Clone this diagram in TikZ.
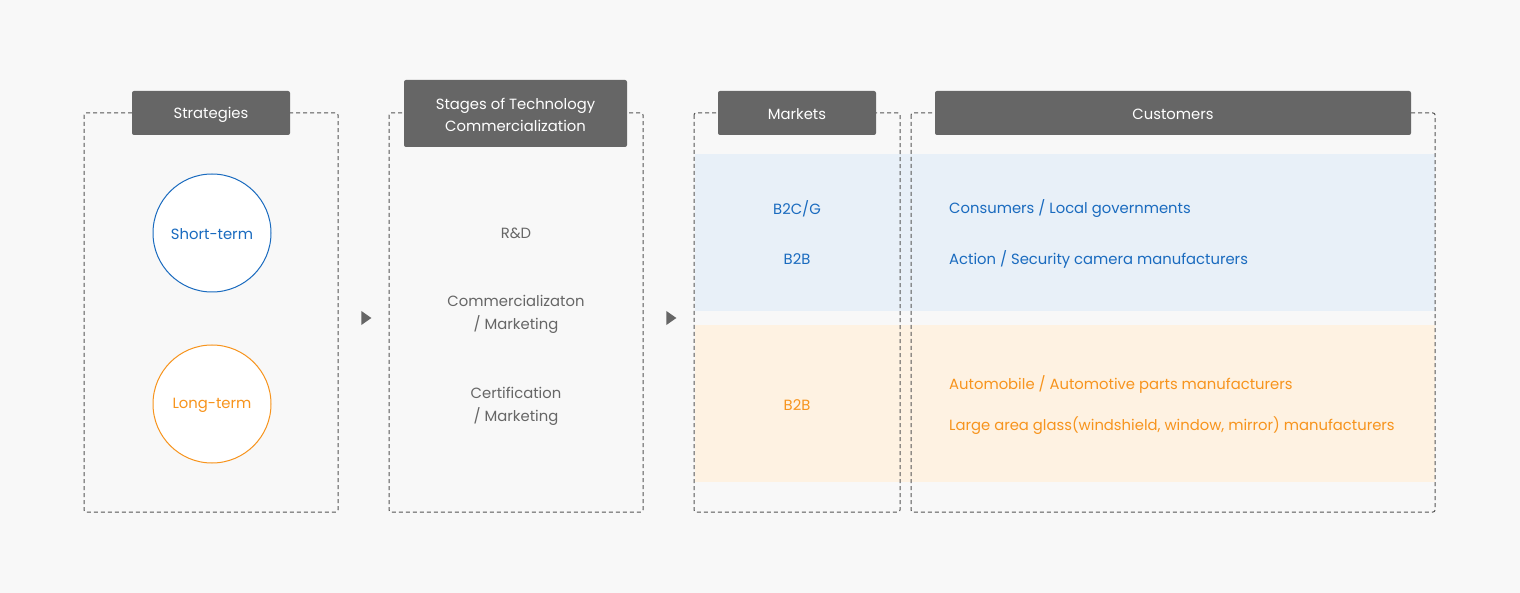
\documentclass[tikz,border=0pt]{standalone}
\usepackage{fontspec}
\setmainfont{Poppins}
\usetikzlibrary{shapes.geometric}
\definecolor{bgc}{HTML}{F8F8F8}
\definecolor{hdr}{HTML}{666666}
\definecolor{txg}{HTML}{666666}
\definecolor{bl}{HTML}{1A6BBF}
\definecolor{org}{HTML}{F7941D}
\definecolor{blband}{HTML}{E8F0F8}
\definecolor{orband}{HTML}{FEF2E2}
\definecolor{dash}{HTML}{555555}
\tikzset{
  frame/.style={draw=dash, dash pattern=on 4pt off 3pt, line width=1pt, rounded corners=2pt},
  hdrbox/.style={fill=hdr, rounded corners=2pt, text=white, font=\fontsize{14.8}{22.5}\selectfont, align=center, inner sep=0pt},
  circ/.style={circle, fill=white, line width=1pt, minimum size=118pt, inner sep=0pt, font=\fontsize{14.8}{20}\selectfont},
  gtext/.style={text=txg, font=\fontsize{14.8}{23}\selectfont, align=center},
  btext/.style={text=bl, font=\fontsize{14.8}{20}\selectfont},
  otext/.style={text=org, font=\fontsize{14.8}{20}\selectfont},
  tri/.style={fill=hdr, isosceles triangle, isosceles triangle apex angle=70, minimum width=12pt, minimum height=10pt, inner sep=0pt}
}
\begin{document}
\begin{tikzpicture}[x=1pt,y=-1pt]
\fill[bgc] (0,0) rectangle (1520,593);
\useasboundingbox (0,0) rectangle (1520,593);
% bands
\fill[blband] (695,154) rectangle (1435,311);
\fill[orband] (695,325) rectangle (1435,482);
% frames
\draw[frame] (84,113) rectangle (338,512);
\draw[frame] (389,113) rectangle (643,512);
\draw[frame] (694,113) rectangle (900,512);
\draw[frame] (911,113) rectangle (1435,512);
% headers
\node[hdrbox, minimum width=158pt, minimum height=44pt] (h1) at (211,113) {};
\node[hdrbox, minimum width=223pt, minimum height=67pt] (h2) at (515.5,113.5) {};
\node[hdrbox, minimum width=158pt, minimum height=44pt] (h3) at (797,113) {};
\node[hdrbox, minimum width=476pt, minimum height=44pt] (h4) at (1173,113) {};
\node[text=white, font=\fontsize{14.8}{22.5}\selectfont] at (211,114.5) {Strategies};
\node[text=white, font=\fontsize{14.8}{22.5}\selectfont, align=center] at (515.5,115) {Stages of Technology\\Commercialization};
\node[text=white, font=\fontsize{14.8}{22.5}\selectfont] at (797,114.5) {Markets};
\node[text=white, font=\fontsize{14.8}{22.5}\selectfont] at (1173,114.5) {Customers};
% circles
\node[circ, draw=bl] (st) at (212,233) {};
\node[circ, draw=org] (lt) at (212,404) {};
\node[text=bl, font=\fontsize{14.8}{20}\selectfont] at (st.center) [yshift=-1.5pt] {Short-term};
\node[text=org, font=\fontsize{14.8}{20}\selectfont] at (lt.center) [yshift=-1.5pt] {Long-term};
% arrows
\node[tri] (a1) at (365,318) {};
\node[tri] (a2) at (670,318) {};
% stages
\node[gtext] (s1) at (516,233.5) {R\&D};
\node[gtext] (s2) at (516,314) {Commercializaton\\/ Marketing};
\node[gtext] (s3) at (516,406) {Certification\\/ Marketing};
% markets
\node[btext] (m1) at (797,208.5) {B2C/G};
\node[btext] (m2) at (797,259.5) {B2B};
\node[otext] (m3) at (797,405.5) {B2B};
% customers
\node[btext, anchor=west, inner sep=0pt] (c1) at (949,208.5) {Consumers / Local governments};
\node[btext, anchor=west, inner sep=0pt] (c2) at (949,259.5) {Action / Security camera manufacturers};
\node[otext, anchor=west, inner sep=0pt] (c3) at (949,384.5) {Automobile / Automotive parts manufacturers};
\node[otext, anchor=west, inner sep=0pt] (c4) at (949,425.5) {Large area glass(windshield, window, mirror) manufacturers};
\end{tikzpicture}
\end{document}
